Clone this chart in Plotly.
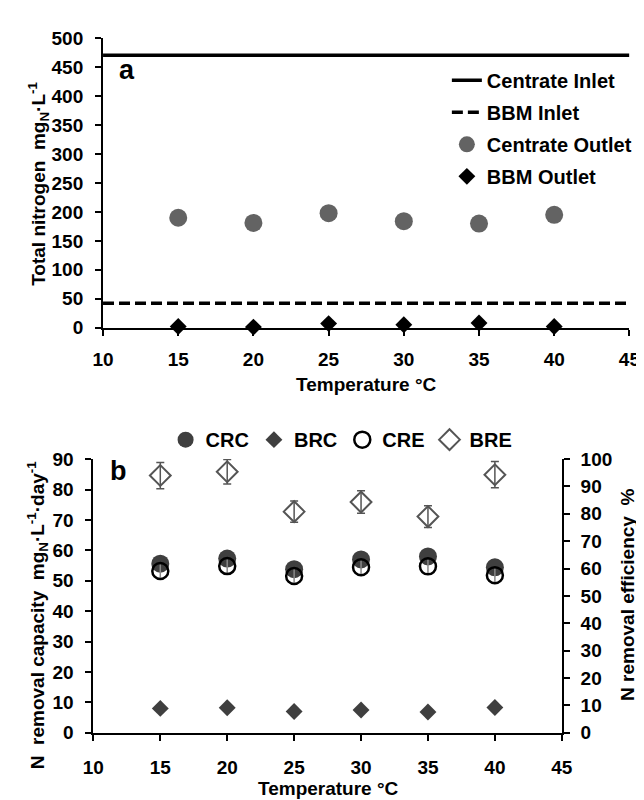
import plotly.graph_objects as go

# ---------------- data ----------------
temps = [15, 20, 25, 30, 35, 40]
temp_span = [10, 45]

# panel a
centrate_inlet = 471
bbm_inlet = 42
centrate_outlet = [190, 181, 198, 184, 180, 195]
bbm_outlet = [2, 1, 7, 5, 8, 2]

# panel b
crc = [55.6, 57.3, 53.8, 57.0, 58.0, 54.4]
crc_err = [1.8, 2.2, 1.5, 1.8, 2.0, 1.6]
brc = [8.0, 8.2, 7.0, 7.5, 6.8, 8.3]
cre = [59.1, 60.9, 57.3, 60.5, 60.8, 57.6]
cre_err = [2.5, 2.5, 2.5, 2.5, 2.5, 2.5]
bre = [94.0, 95.4, 80.8, 84.3, 79.0, 94.3]
bre_err = [4.8, 4.5, 3.9, 4.1, 4.0, 4.8]

x_ticks = [10, 15, 20, 25, 30, 35, 40, 45]

W, H = 644, 800
FONT = "Liberation Sans, Arial, sans-serif"


def px_x(p):
    return p / W


def px_y(p):
    return 1 - p / H


fig = go.Figure()

# ---------------- panel a ----------------
fig.add_trace(go.Scatter(
    x=temp_span, y=[centrate_inlet] * len(temp_span), mode="lines",
    line=dict(color="black", width=3.5), name="Centrate Inlet",
    xaxis="x", yaxis="y", legend="legend", legendgroup="a1"))
fig.add_trace(go.Scatter(
    x=temp_span, y=[bbm_inlet] * len(temp_span), mode="lines",
    line=dict(color="black", width=3.5, dash="11px,5px"), name="BBM Inlet",
    xaxis="x", yaxis="y", legend="legend", legendgroup="a2"))
fig.add_trace(go.Scatter(
    x=temps, y=centrate_outlet, mode="markers",
    marker=dict(symbol="circle", size=18, color="#636363"),
    name="Centrate Outlet", xaxis="x", yaxis="y", legend="legend", legendgroup="a3"))
fig.add_trace(go.Scatter(
    x=temps, y=bbm_outlet, mode="markers",
    marker=dict(symbol="diamond", size=13, color="black"),
    name="BBM Outlet", xaxis="x", yaxis="y", legend="legend", legendgroup="a4",
    cliponaxis=False))

# ---------------- panel b ----------------
fig.add_trace(go.Scatter(
    x=temps, y=crc, mode="markers", name="CRC",
    marker=dict(symbol="circle", size=18, color="#3f3f3f"),
    error_y=dict(type="data", array=crc_err, color="#3f3f3f", thickness=1.5, width=4),
    xaxis="x2", yaxis="y2", legend="legend2"))
fig.add_trace(go.Scatter(
    x=temps, y=brc, mode="markers", name="BRC",
    marker=dict(symbol="diamond", size=13, color="#3f3f3f"),
    xaxis="x2", yaxis="y2", legend="legend2"))
fig.add_trace(go.Scatter(
    x=temps, y=cre, mode="markers", name="CRE",
    marker=dict(symbol="circle-open", size=16, color="black", line=dict(width=2.5, color="black")),
    error_y=dict(type="data", array=cre_err, color="#8a8a8a", thickness=1.5, width=0),
    xaxis="x2", yaxis="y3", legend="legend2"))
fig.add_trace(go.Scatter(
    x=temps, y=bre, mode="markers", name="BRE",
    marker=dict(symbol="diamond-open", size=16, color="#555555", line=dict(width=2, color="#555555")),
    error_y=dict(type="data", array=bre_err, color="#555555", thickness=1.5, width=4),
    xaxis="x2", yaxis="y3", legend="legend2"))

tickfont = dict(family=FONT, size=19, color="black", weight="bold")
base_axis = dict(showgrid=False, zeroline=False, showline=True, linecolor="black",
                 linewidth=2, ticks="outside", ticklen=6, tickwidth=1.5,
                 tickcolor="black", tickfont=tickfont)
inner_axis = dict(showgrid=False, zeroline=False, showline=False, ticks="inside",
                  ticklen=5, tickwidth=1.5, tickcolor="black", showticklabels=False)

dom_a_x = [px_x(87), px_x(632)]
dom_a_y = [px_y(318), px_y(21)]
dom_b_x = [px_x(77), px_x(562)]
dom_b_y = [px_y(734), px_y(453)]

fig.update_layout(
    width=W, height=H,
    margin=dict(l=0, r=0, t=0, b=0),
    paper_bgcolor="white", plot_bgcolor="white",
    font=dict(family=FONT, color="black", weight="bold"),
    xaxis=dict(base_axis, domain=dom_a_x, anchor="y", range=temp_span,
               tickvals=x_ticks, ticklabelstandoff=8),
    yaxis=dict(base_axis, domain=dom_a_y, anchor="x", range=[0, 500], dtick=50,
               ticklabelstandoff=8),
    xaxis3=dict(inner_axis, domain=dom_a_x, anchor="y", overlaying="x",
                range=temp_span, tickvals=x_ticks),
    yaxis4=dict(inner_axis, domain=dom_a_y, anchor="x", overlaying="y",
                range=[0, 500], dtick=50),
    xaxis2=dict(base_axis, domain=dom_b_x, anchor="y2", range=temp_span,
                tickvals=x_ticks, ticklabelstandoff=10),
    yaxis2=dict(base_axis, domain=dom_b_y, anchor="x2", range=[0, 90], dtick=10,
                ticklabelstandoff=8),
    yaxis3=dict(base_axis, domain=dom_b_y, anchor="x2", overlaying="y2", side="right",
                range=[0, 100], dtick=10, ticklabelstandoff=7),
    yaxis5=dict(inner_axis, domain=dom_b_y, anchor="x2", overlaying="y2",
                range=[0, 90], dtick=10),
    legend=dict(x=px_x(443), y=px_y(44), xanchor="left", yanchor="top",
                bgcolor="rgba(0,0,0,0)", tracegroupgap=3,
                font=dict(family=FONT, size=20, color="black", weight="bold")),
    legend2=dict(orientation="h", x=px_x(334), y=px_y(433), xanchor="center",
                 yanchor="middle", bgcolor="rgba(0,0,0,0)",
                 font=dict(family=FONT, size=20, color="black", weight="bold")),
)

title_font = dict(family=FONT, size=19, color="black", weight="bold")
annotations = [
    dict(text="Total nitrogen  mg<sub>N</sub>·L<sup>-1</sup>", x=px_x(20), y=px_y(170),
         textangle=-90),
    dict(text="Temperature °C", x=px_x(360), y=px_y(376), textangle=0),
    dict(text="N  removal capacity  mg<sub>N</sub>·L<sup>-1</sup>·day<sup>-1</sup>",
         x=px_x(20), y=px_y(613), textangle=-90),
    dict(text="N removal efficiency  %", x=px_x(630), y=px_y(592), textangle=-90),
    dict(text="Temperature °C", x=px_x(320), y=px_y(791), textangle=0),
]
for a in annotations:
    fig.add_annotation(xref="paper", yref="paper", showarrow=False,
                       xanchor="center", yanchor="middle", font=title_font, **a)

label_font = dict(family=FONT, size=27, color="black", weight="bold")
fig.add_annotation(text="a", xref="paper", yref="paper", x=px_x(112), y=px_y(53),
                   showarrow=False, xanchor="center", yanchor="middle", font=label_font)
fig.add_annotation(text="b", xref="paper", yref="paper", x=px_x(103), y=px_y(465),
                   showarrow=False, xanchor="center", yanchor="middle", font=label_font)

fig.write_html("out.html")
